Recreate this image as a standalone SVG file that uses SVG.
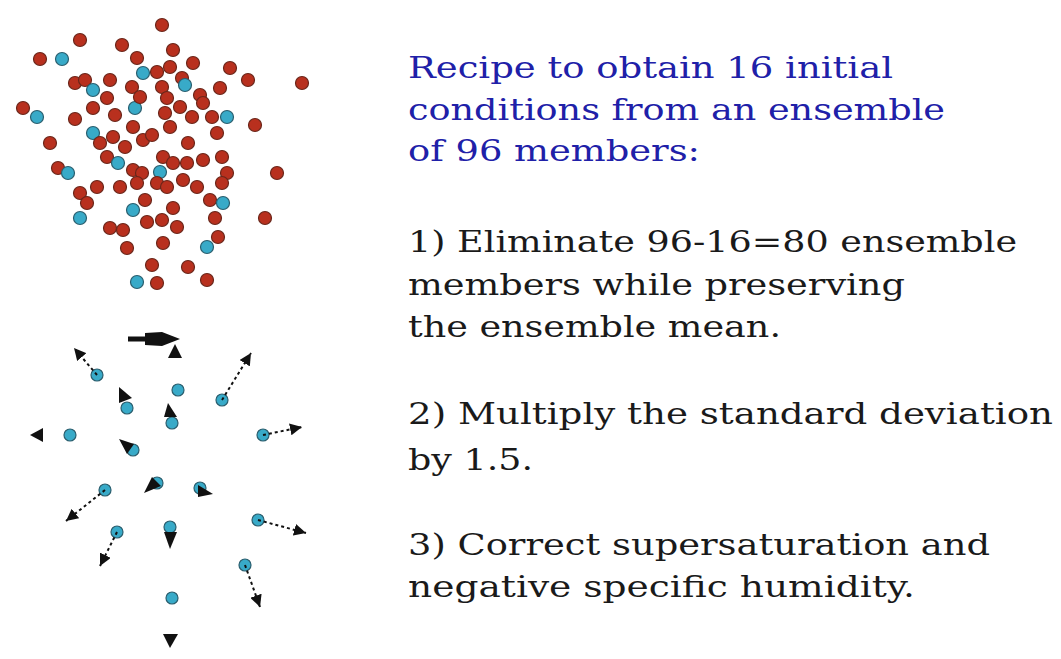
<svg xmlns="http://www.w3.org/2000/svg" width="1061" height="659" viewBox="0 0 1061 659">
<style>
.r{fill:#b8301e;stroke:#6a261a;stroke-width:1.2}
.c{fill:#38aac8;stroke:#2a5e6e;stroke-width:1.2}
.t{font-family:"DejaVu Serif","Liberation Serif",serif;font-size:30px;fill:#1a1a1a}
.h{fill:#2020a8}
.d{stroke:#111;stroke-width:2;stroke-dasharray:3 3;fill:none}
.a{fill:#111}
</style>
<defs>
<marker id="ah" viewBox="0 0 10 10" refX="10" refY="5" markerWidth="6" markerHeight="6" orient="auto" markerUnits="strokeWidth"><path d="M0,0L10,5L0,10z" fill="#111"/></marker>
</defs>
<rect width="1061" height="659" fill="#fff"/>
<g id="ensemble">
<circle class="r" cx="162" cy="25" r="6.5"/><circle class="r" cx="80" cy="40" r="6.5"/><circle class="r" cx="122" cy="45" r="6.5"/><circle class="r" cx="40" cy="59" r="6.5"/><circle class="c" cx="62" cy="59" r="6.5"/><circle class="r" cx="137" cy="58" r="6.5"/><circle class="r" cx="173" cy="50" r="6.5"/><circle class="r" cx="193" cy="63" r="6.5"/><circle class="r" cx="230" cy="68" r="6.5"/><circle class="r" cx="248" cy="80" r="6.5"/><circle class="r" cx="302" cy="83" r="6.5"/><circle class="c" cx="143" cy="73" r="6.5"/><circle class="r" cx="157" cy="72" r="6.5"/><circle class="r" cx="170" cy="67" r="6.5"/><circle class="r" cx="182" cy="78" r="6.5"/><circle class="c" cx="185" cy="85" r="6.5"/><circle class="r" cx="75" cy="83" r="6.5"/><circle class="r" cx="85" cy="80" r="6.5"/><circle class="c" cx="93" cy="90" r="6.5"/><circle class="r" cx="110" cy="80" r="6.5"/><circle class="r" cx="132" cy="87" r="6.5"/><circle class="r" cx="162" cy="87" r="6.5"/><circle class="r" cx="220" cy="88" r="6.5"/><circle class="r" cx="200" cy="95" r="6.5"/><circle class="r" cx="23" cy="108" r="6.5"/><circle class="c" cx="37" cy="117" r="6.5"/><circle class="r" cx="93" cy="108" r="6.5"/><circle class="r" cx="107" cy="98" r="6.5"/><circle class="r" cx="115" cy="115" r="6.5"/><circle class="c" cx="135" cy="108" r="6.5"/><circle class="r" cx="140" cy="97" r="6.5"/><circle class="r" cx="167" cy="98" r="6.5"/><circle class="r" cx="180" cy="107" r="6.5"/><circle class="r" cx="203" cy="103" r="6.5"/><circle class="r" cx="75" cy="119" r="6.5"/><circle class="r" cx="165" cy="113" r="6.5"/><circle class="r" cx="192" cy="117" r="6.5"/><circle class="r" cx="212" cy="117" r="6.5"/><circle class="c" cx="227" cy="117" r="6.5"/><circle class="r" cx="255" cy="125" r="6.5"/><circle class="r" cx="50" cy="143" r="6.5"/><circle class="c" cx="93" cy="133" r="6.5"/><circle class="r" cx="133" cy="127" r="6.5"/><circle class="r" cx="170" cy="127" r="6.5"/><circle class="r" cx="217" cy="133" r="6.5"/><circle class="r" cx="100" cy="143" r="6.5"/><circle class="r" cx="113" cy="137" r="6.5"/><circle class="r" cx="125" cy="147" r="6.5"/><circle class="r" cx="143" cy="140" r="6.5"/><circle class="r" cx="152" cy="135" r="6.5"/><circle class="r" cx="188" cy="143" r="6.5"/><circle class="r" cx="107" cy="157" r="6.5"/><circle class="r" cx="163" cy="157" r="6.5"/><circle class="r" cx="173" cy="163" r="6.5"/><circle class="r" cx="187" cy="163" r="6.5"/><circle class="r" cx="203" cy="160" r="6.5"/><circle class="r" cx="222" cy="157" r="6.5"/><circle class="r" cx="58" cy="168" r="6.5"/><circle class="c" cx="68" cy="173" r="6.5"/><circle class="c" cx="118" cy="163" r="6.5"/><circle class="r" cx="133" cy="170" r="6.5"/><circle class="r" cx="142" cy="173" r="6.5"/><circle class="c" cx="160" cy="172" r="6.5"/><circle class="r" cx="227" cy="173" r="6.5"/><circle class="r" cx="277" cy="173" r="6.5"/><circle class="r" cx="97" cy="187" r="6.5"/><circle class="r" cx="120" cy="187" r="6.5"/><circle class="r" cx="137" cy="183" r="6.5"/><circle class="r" cx="157" cy="183" r="6.5"/><circle class="r" cx="167" cy="187" r="6.5"/><circle class="r" cx="183" cy="180" r="6.5"/><circle class="r" cx="197" cy="187" r="6.5"/><circle class="r" cx="222" cy="183" r="6.5"/><circle class="r" cx="80" cy="193" r="6.5"/><circle class="r" cx="87" cy="203" r="6.5"/><circle class="r" cx="145" cy="200" r="6.5"/><circle class="r" cx="173" cy="208" r="6.5"/><circle class="r" cx="210" cy="200" r="6.5"/><circle class="c" cx="223" cy="203" r="6.5"/><circle class="c" cx="133" cy="210" r="6.5"/><circle class="c" cx="80" cy="218" r="6.5"/><circle class="r" cx="215" cy="218" r="6.5"/><circle class="r" cx="265" cy="218" r="6.5"/><circle class="r" cx="147" cy="222" r="6.5"/><circle class="r" cx="162" cy="220" r="6.5"/><circle class="r" cx="177" cy="227" r="6.5"/><circle class="r" cx="110" cy="228" r="6.5"/><circle class="r" cx="123" cy="230" r="6.5"/><circle class="r" cx="218" cy="237" r="6.5"/><circle class="r" cx="163" cy="243" r="6.5"/><circle class="c" cx="207" cy="247" r="6.5"/><circle class="r" cx="127" cy="248" r="6.5"/><circle class="r" cx="152" cy="265" r="6.5"/><circle class="r" cx="188" cy="267" r="6.5"/><circle class="c" cx="137" cy="282" r="6.5"/><circle class="r" cx="157" cy="283" r="6.5"/><circle class="r" cx="207" cy="280" r="6.5"/>
</g>
<g id="selected">
<circle class="c" cx="97" cy="375" r="6"/><circle class="c" cx="178" cy="390" r="6"/><circle class="c" cx="222" cy="400" r="6"/><circle class="c" cx="127" cy="408" r="6"/><circle class="c" cx="172" cy="423" r="6"/><circle class="c" cx="70" cy="435" r="6"/><circle class="c" cx="263" cy="435" r="6"/><circle class="c" cx="133" cy="450" r="6"/><circle class="c" cx="157" cy="483" r="6"/><circle class="c" cx="200" cy="488" r="6"/><circle class="c" cx="105" cy="490" r="6"/><circle class="c" cx="117" cy="532" r="6"/><circle class="c" cx="170" cy="527" r="6"/><circle class="c" cx="258" cy="520" r="6"/><circle class="c" cx="245" cy="565" r="6"/><circle class="c" cx="172" cy="598" r="6"/>
</g>
<g id="connectors">
<path class="d" d="M97,375L74,348" marker-end="url(#ah)"/>
<path class="d" d="M222,400L251,353" marker-end="url(#ah)"/>
<path class="d" d="M263,435L302,427" marker-end="url(#ah)"/>
<path class="d" d="M105,490L66,521" marker-end="url(#ah)"/>
<path class="d" d="M117,532L100,566" marker-end="url(#ah)"/>
<path class="d" d="M258,520L306,533" marker-end="url(#ah)"/>
<path class="d" d="M245,565L260,607" marker-end="url(#ah)"/>
<path d="M128,339L166,339" stroke="#111" stroke-width="5"/><path class="a" d="M145,333L162,332L180,339L162,346L145,345z"/>
<path class="a" d="M175,344L182,358L168,358z"/>
<path class="a" d="M119,387L132,398L119,403z"/>
<path class="a" d="M168,403L177,417L164,417z"/>
<path class="a" d="M30,435L43,428L43,442z"/>
<path class="a" d="M119,439L134,444L127,454z"/>
<path class="a" d="M144,493L152,477L161,486z"/>
<path class="a" d="M213,494L198,485L198,497z"/>
<path class="a" d="M170,549L164,532L177,532z"/>
<path class="a" d="M170,648L163,634L178,634z"/>
</g>
<g id="text">
<text class="t h" x="408" y="78" textLength="485" lengthAdjust="spacingAndGlyphs">Recipe to obtain 16 initial</text>
<text class="t h" x="408" y="120" textLength="537" lengthAdjust="spacingAndGlyphs">conditions from an ensemble</text>
<text class="t h" x="408" y="161" textLength="292" lengthAdjust="spacingAndGlyphs">of 96 members:</text>
<text class="t" x="408" y="252" textLength="609" lengthAdjust="spacingAndGlyphs">1) Eliminate 96-16=80 ensemble</text>
<text class="t" x="408" y="295" textLength="497" lengthAdjust="spacingAndGlyphs">members while preserving</text>
<text class="t" x="408" y="337" textLength="373" lengthAdjust="spacingAndGlyphs">the ensemble mean.</text>
<text class="t" x="408" y="424" textLength="645" lengthAdjust="spacingAndGlyphs">2) Multiply the standard deviation</text>
<text class="t" x="408" y="470" textLength="125" lengthAdjust="spacingAndGlyphs">by 1.5.</text>
<text class="t" x="408" y="555" textLength="582" lengthAdjust="spacingAndGlyphs">3) Correct supersaturation and</text>
<text class="t" x="408" y="597" textLength="507" lengthAdjust="spacingAndGlyphs">negative specific humidity.</text>
</g>
</svg>
